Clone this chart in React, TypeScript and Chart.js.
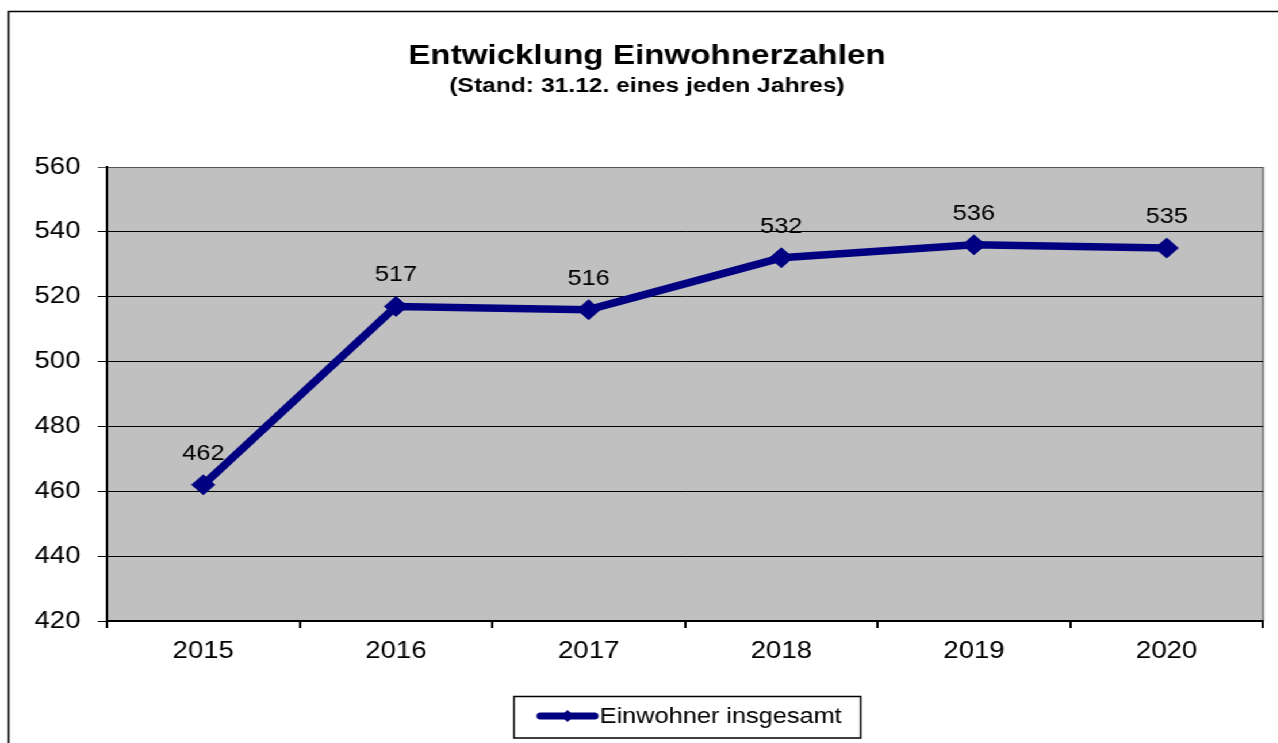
import { useEffect, useRef } from 'react';
import { Chart, registerables } from 'chart.js';

Chart.register(...registerables);

// ---- data ----
const years: string[] = ['2015', '2016', '2017', '2018', '2019', '2020'];
const residents: number[] = [462, 517, 516, 532, 536, 535];
const seriesLabel = 'Einwohner insgesamt';
const titleText = 'Entwicklung Einwohnerzahlen';
const subtitleText = '(Stand: 31.12. eines jeden Jahres)';
const yMin = 420;
const yMax = 560;
const yStep = 20;

// ---- layout (internal canvas units; whole canvas is stretched horizontally) ----
const SX = 1.15;
const W = 1112;
const H = 743;
const NAVY = '#000080';
const FONT = '"Liberation Sans", Arial, sans-serif';

function drawScaledText(
  ctx: CanvasRenderingContext2D,
  text: string,
  cx: number,
  baseline: number,
  font: string,
  sx: number,
  align: CanvasTextAlign = 'center'
) {
  ctx.save();
  ctx.font = font;
  ctx.textAlign = align;
  ctx.textBaseline = 'alphabetic';
  ctx.fillStyle = '#000';
  ctx.translate(cx, baseline);
  ctx.scale(sx, 1);
  ctx.fillText(text, 0, 0);
  ctx.restore();
}

export default function App() {
  const ref = useRef<HTMLCanvasElement>(null);

  useEffect(() => {
    const canvas = ref.current;
    if (!canvas) return;

    const deco = {
      id: 'deco',
      beforeDraw(chart: any) {
        const { ctx, chartArea } = chart;
        const { left, top, right, bottom } = chartArea;
        ctx.save();
        ctx.fillStyle = '#ffffff';
        ctx.fillRect(0, 0, chart.width, chart.height);
        // outer frame
        ctx.strokeStyle = '#000';
        ctx.lineWidth = 1.5;
        ctx.strokeRect(7.5, 11.5, 3000, 3000);
        // plot area
        ctx.fillStyle = '#C0C0C0';
        ctx.fillRect(left, top, right - left, bottom - top);
        ctx.strokeStyle = '#808080';
        ctx.lineWidth = 2;
        ctx.beginPath();
        ctx.moveTo(right, top);
        ctx.lineTo(right, bottom);
        ctx.stroke();
        ctx.restore();

        drawScaledText(ctx, titleText, 562.6, 64, `bold 28px ${FONT}`, 1.03);
        drawScaledText(ctx, subtitleText, 562.6, 92, `bold 20px ${FONT}`, 1.07);
      },
      afterDatasetsDraw(chart: any) {
        const { ctx } = chart;
        const meta = chart.getDatasetMeta(0);
        const values = chart.data.datasets[0].data as number[];
        ctx.save();
        ctx.font = `22px ${FONT}`;
        ctx.fillStyle = '#000';
        ctx.textAlign = 'center';
        ctx.textBaseline = 'alphabetic';
        meta.data.forEach((pt: any, i: number) => {
          ctx.fillText(String(values[i]), pt.x, pt.y - 25);
        });
        ctx.restore();
      },
      afterDraw(chart: any) {
        const { ctx } = chart;
        const label = chart.data.datasets[0].label as string;
        ctx.save();
        // legend box
        ctx.strokeStyle = '#000';
        ctx.lineWidth = 1.5;
        ctx.strokeRect(447, 696.5, 301.5, 41.5);
        // legend sample line
        ctx.strokeStyle = NAVY;
        ctx.lineWidth = 7;
        ctx.lineCap = 'round';
        ctx.beginPath();
        ctx.moveTo(470, 716);
        ctx.lineTo(517, 716);
        ctx.stroke();
        // sample marker
        ctx.fillStyle = NAVY;
        ctx.beginPath();
        ctx.moveTo(493.5 - 6, 716);
        ctx.lineTo(493.5, 710);
        ctx.lineTo(493.5 + 6, 716);
        ctx.lineTo(493.5, 722);
        ctx.closePath();
        ctx.fill();
        ctx.restore();
        drawScaledText(ctx, label, 521.5, 723, `22px ${FONT}`, 1.0, 'left');
      },
    };

    const chart = new Chart(canvas, {
      type: 'line',
      data: {
        labels: years,
        datasets: [
          {
            label: seriesLabel,
            data: residents,
            borderColor: NAVY,
            backgroundColor: NAVY,
            borderWidth: 7.5,
            tension: 0,
            pointStyle: 'rectRot',
            pointRadius: 10,
            pointHoverRadius: 10,
            pointBackgroundColor: NAVY,
            pointBorderColor: NAVY,
            pointBorderWidth: 1,
            clip: false as any,
          },
        ],
      },
      options: {
        responsive: false,
        animation: false,
        devicePixelRatio: 1,
        events: [],
        layout: { padding: { top: 167, right: 13.7, bottom: 0, left: 0 } },
        plugins: {
          legend: { display: false },
          title: { display: false },
          tooltip: { enabled: false },
        },
        scales: {
          x: {
            type: 'category',
            offset: true,
            grid: {
              offset: true,
              drawOnChartArea: false,
              drawTicks: true,
              tickLength: 7,
              color: '#000',
              lineWidth: 2,
            },
            border: { display: true, color: '#000', width: 2 },
            ticks: {
              color: '#000',
              font: { family: FONT, size: 24 },
              padding: 9,
              maxRotation: 0,
              autoSkip: false,
            },
            afterFit: (s: any) => {
              s.height = 122;
            },
          },
          y: {
            min: yMin,
            max: yMax,
            ticks: {
              stepSize: yStep,
              color: '#000',
              font: { family: FONT, size: 24 },
              padding: 15,
            },
            grid: {
              color: (c: any) => (c.tick && c.tick.value === yMax ? '#555' : '#000'),
              lineWidth: 1,
              tickLength: 8,
              drawTicks: true,
            },
            border: { display: true, color: '#000', width: 2 },
            afterFit: (s: any) => {
              s.width = 93;
            },
          },
        },
      },
      plugins: [deco],
    });

    return () => chart.destroy();
  }, []);

  return (
    <div
      style={{
        position: 'fixed',
        left: 0,
        top: 0,
        width: W,
        height: H,
        transform: `scaleX(${SX})`,
        transformOrigin: '0 0',
        background: '#fff',
      }}
    >
      <canvas ref={ref} width={W} height={H} style={{ display: 'block' }} />
    </div>
  );
}
